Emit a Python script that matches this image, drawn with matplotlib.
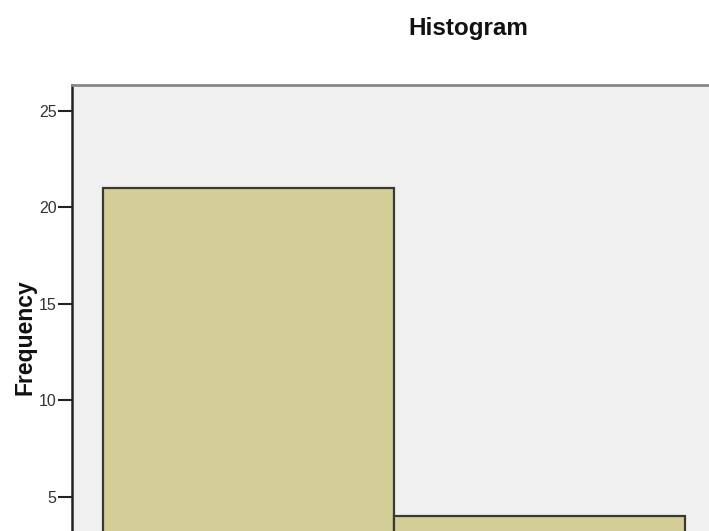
import matplotlib
matplotlib.use("Agg")
import matplotlib.pyplot as plt
import numpy as np

# Data
bin_edges = [0, 1, 2]
counts = [21, 4]
y_ticks = [5, 10, 15, 20, 25]
title_text = "Histogram"
y_label = "Frequency"

plt.rcParams['font.family'] = ['Liberation Sans', 'DejaVu Sans']

W, H = 709, 531
fig = plt.figure(figsize=(W / 100, H / 100), dpi=100)
fig.patch.set_facecolor("white")

ax_left = 72 / W
ax_top = 1 - 85 / H
ax_bottom = 1 - 593.2 / H
ax_right = 716.5 / W
ax = fig.add_axes([ax_left, ax_bottom, ax_right - ax_left, ax_top - ax_bottom])
ax.set_facecolor("#F0F0F0")

widths = np.diff(bin_edges)
ax.bar(bin_edges[:-1], counts, width=widths, align="edge",
       color="#D3CE97", edgecolor="#3a3a32", linewidth=1.6, zorder=2)

pad = 0.108
ax.set_xlim(bin_edges[0] - pad, bin_edges[-1] + pad)
top_val = (593.2 - 85) / 19.3
ax.set_ylim(0, top_val)

ax.set_yticks(y_ticks)
ax.set_yticklabels([str(t) for t in y_ticks], fontsize=11.5, color="#333333")
ax.tick_params(axis="y", direction="out", length=10, width=1.5, pad=1, color="#222222")
ax.set_xticks([])

ax.spines["left"].set_color("#222222")
ax.spines["left"].set_linewidth(1.8)
ax.spines["top"].set_color("#888888")
ax.spines["top"].set_linewidth(2)
ax.spines["right"].set_visible(False)
ax.spines["bottom"].set_visible(False)

fig.text(468 / W, 1 - 35 / H, title_text, ha="center", va="baseline",
         fontsize=17.5, fontweight="bold", color="#111111")
fig.text(25 / W, 1 - 337 / H, y_label, rotation=90, ha="center", va="center",
         fontsize=16.5, fontweight="bold", color="#111111")

fig.savefig("out.png", dpi=100)
